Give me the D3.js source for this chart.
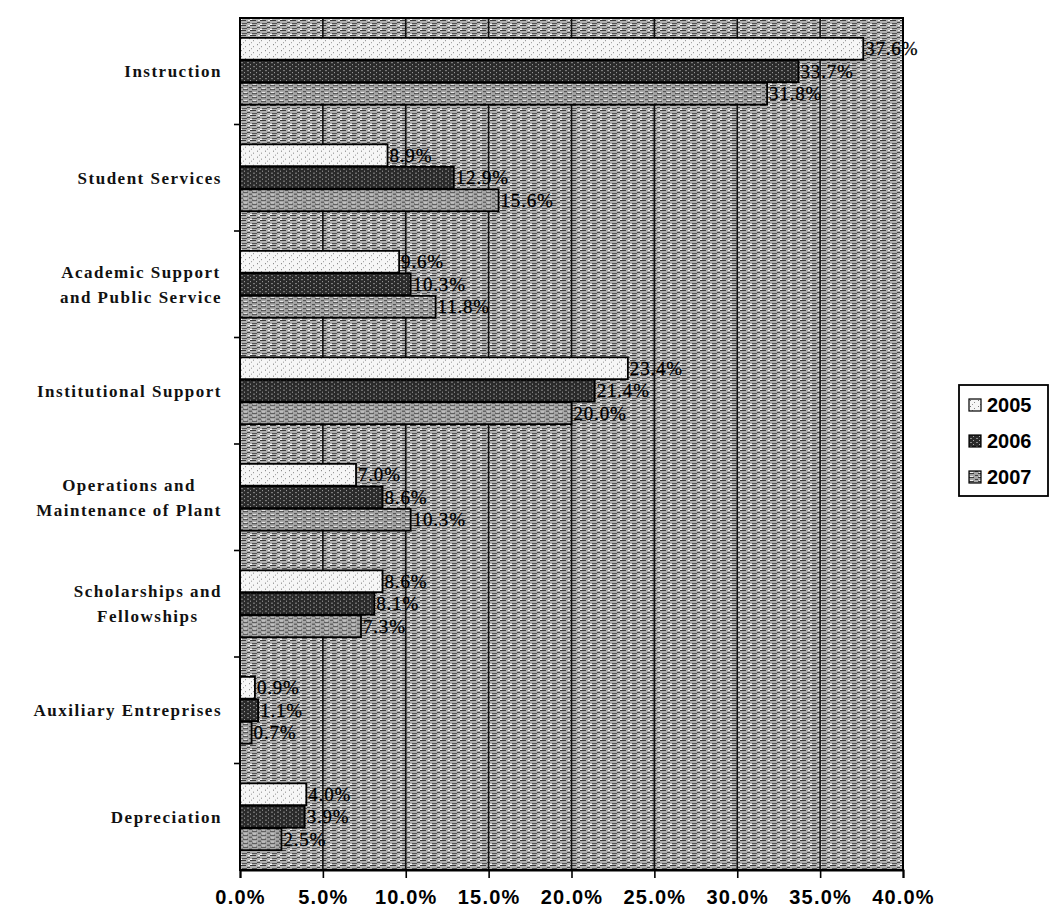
<!DOCTYPE html>
<html>
<head>
<meta charset="utf-8">
<script src="https://cdn.jsdelivr.net/npm/d3@7"></script>
<style>
  html, body { margin: 0; padding: 0; background: #ffffff; }
  svg { display: block; }
</style>
</head>
<body>
<svg id="chart" width="1050" height="915"></svg>
<script>
// ---- data ----
const categories = [
  "Instruction",
  "Student Services",
  "Academic Support|and Public Service",
  "Institutional Support",
  "Operations and|Maintenance of Plant",
  "Scholarships and|Fellowships",
  "Auxiliary Entreprises",
  "Depreciation"
];
const seriesNames = ["2005", "2006", "2007"];
const values2005 = [37.6, 8.9, 9.6, 23.4, 7.0, 8.6, 0.9, 4.0];
const values2006 = [33.7, 12.9, 10.3, 21.4, 8.6, 8.1, 1.1, 3.9];
const values2007 = [31.8, 15.6, 11.8, 20.0, 10.3, 7.3, 0.7, 2.5];
const tickValues = [0, 5, 10, 15, 20, 25, 30, 35, 40];
const tickLabels = ["0.0%", "5.0%", "10.0%", "15.0%", "20.0%", "25.0%", "30.0%", "35.0%", "40.0%"];

const seriesValues = [values2005, values2006, values2007];
const rows = categories.map((c, i) => ({
  cat: c,
  vals: seriesNames.map((s, j) => ({ series: s, idx: j, v: seriesValues[j][i] }))
}));

// ---- layout ----
const svg = d3.select("#chart");
const plot = { left: 240, right: 903, top: 18, bottom: 870 };

const x = d3.scaleLinear().domain([0, 40]).range([plot.left, plot.right]);
const y = d3.scaleBand().domain(categories).range([plot.top, plot.bottom]).paddingInner(0.36).paddingOuter(0.18);
const yInner = d3.scaleBand().domain(seriesNames).range([0, y.bandwidth()]).padding(0.03);

// ---- patterns (scanned halftone look) ----
const defs = svg.append("defs");
function mkPattern(id, w, h, base, marks) {
  const p = defs.append("pattern").attr("id", id).attr("patternUnits", "userSpaceOnUse")
    .attr("width", w).attr("height", h);
  p.append("rect").attr("width", w).attr("height", h).attr("fill", base);
  marks.forEach(m => p.append("rect").attr("x", m[0]).attr("y", m[1]).attr("width", m[2]).attr("height", m[3]).attr("fill", m[4]));
}
mkPattern("bgPat", 10, 5, "#b0b0b0", [
  [0, 0, 6, 1, "#3a3a3a"], [7, 2, 3, 1, "#4a4a4a"], [2, 3, 5, 1, "#555"], [0, 4, 2, 1, "#fff"], [8, 0, 2, 1, "#eee"]
]);
mkPattern("p2005", 8, 6, "#f6f6f6", [
  [1, 1, 1, 1, "#777"], [5, 3, 1, 1, "#888"], [3, 5, 1, 1, "#999"]
]);
mkPattern("p2006", 6, 4, "#2a2a2a", [
  [1, 1, 2, 1, "#8a8a8a"], [4, 3, 1, 1, "#aaa"]
]);
mkPattern("p2007", 9, 4, "#a6a6a6", [
  [0, 0, 5, 1, "#3c3c3c"], [6, 2, 3, 1, "#444"], [1, 3, 3, 1, "#f0f0f0"]
]);
const fills = ["url(#p2005)", "url(#p2006)", "url(#p2007)"];

// ---- plot background ----
svg.append("rect")
  .attr("x", plot.left).attr("y", plot.top)
  .attr("width", plot.right - plot.left).attr("height", plot.bottom - plot.top)
  .attr("fill", "url(#bgPat)");

// gridlines
svg.append("g").selectAll("line").data(tickValues.slice(1, -1)).join("line")
  .attr("x1", d => x(d)).attr("x2", d => x(d))
  .attr("y1", plot.top).attr("y2", plot.bottom)
  .attr("stroke", "#111").attr("stroke-width", 1.6);

// ---- bars ----
const gCat = svg.append("g").selectAll("g").data(rows).join("g")
  .attr("transform", d => `translate(0,${y(d.cat)})`);

gCat.selectAll("rect").data(d => d.vals).join("rect")
  .attr("x", x(0))
  .attr("y", d => yInner(d.series))
  .attr("width", d => x(d.v) - x(0))
  .attr("height", yInner.bandwidth())
  .attr("fill", d => fills[d.idx])
  .attr("stroke", "#000").attr("stroke-width", 1.8);

// data labels
gCat.selectAll("text").data(d => d.vals).join("text")
  .attr("x", d => x(d.v) + 2)
  .attr("y", d => yInner(d.series) + yInner.bandwidth() / 2)
  .attr("dy", "0.35em")
  .attr("font-family", "'Liberation Serif', 'DejaVu Serif', serif")
  .attr("font-size", 19)
  .attr("letter-spacing", "0.8px")
  .attr("fill", "#000")
  .attr("stroke", "#000").attr("stroke-width", 0.3)
  .text(d => d.v.toFixed(1) + "%");

// plot border
svg.append("rect")
  .attr("x", plot.left).attr("y", plot.top)
  .attr("width", plot.right - plot.left).attr("height", plot.bottom - plot.top)
  .attr("fill", "none").attr("stroke", "#000").attr("stroke-width", 2);

// ---- x axis ----
const xAxis = d3.axisBottom(x).tickValues(tickValues).tickSize(8).tickPadding(12)
  .tickFormat((d, i) => tickLabels[i]);
const gx = svg.append("g").attr("transform", `translate(0,${plot.bottom})`).call(xAxis);
gx.select(".domain").attr("stroke", "#000").attr("stroke-width", 2);
gx.selectAll(".tick line").attr("stroke", "#000").attr("stroke-width", 1.6);
gx.selectAll(".tick text")
  .attr("font-family", "'Liberation Sans', Arial, sans-serif")
  .attr("font-weight", "bold").attr("font-size", 20)
  .attr("letter-spacing", "1.2px")
  .attr("fill", "#000");

// ---- y axis (category boundary ticks) ----
const boundaries = categories.slice(1).map(c => y(c) - y.step() * y.paddingInner() / 2);
svg.append("g").selectAll("line").data(boundaries).join("line")
  .attr("x1", plot.left - 6).attr("x2", plot.left)
  .attr("y1", d => d).attr("y2", d => d)
  .attr("stroke", "#000").attr("stroke-width", 1.6);

// category labels
const labelRight = 222;
const gLab = svg.append("g");
rows.forEach(r => {
  const lines = r.cat.split("|");
  const cy = y(r.cat) + y.bandwidth() / 2;
  const lh = 25;
  const t = gLab.append("g");
  const texts = lines.map((ln, i) => t.append("text")
    .attr("y", cy + (i - (lines.length - 1) / 2) * lh)
    .attr("dy", "0.35em")
    .attr("font-family", "'Liberation Serif', 'DejaVu Serif', serif")
    .attr("font-weight", "bold").attr("font-size", 17)
    .attr("letter-spacing", "1.5px")
    .attr("fill", "#111")
    .text(ln));
  const widths = texts.map(tx => tx.node().getComputedTextLength());
  const maxW = d3.max(widths);
  const center = labelRight - maxW / 2;
  texts.forEach(tx => tx.attr("x", center).attr("text-anchor", "middle"));
});

// ---- legend ----
const lg = svg.append("g").attr("transform", "translate(959,385)");
lg.append("rect").attr("width", 89).attr("height", 111)
  .attr("fill", "#fff").attr("stroke", "#000").attr("stroke-width", 1.8);
const li = lg.selectAll("g").data(seriesNames).join("g")
  .attr("transform", (d, i) => `translate(10,${20 + i * 36})`);
li.append("rect").attr("x", 0).attr("y", -6).attr("width", 12).attr("height", 12)
  .attr("fill", (d, i) => fills[i]).attr("stroke", "#000").attr("stroke-width", 1.2);
li.append("text").attr("x", 18).attr("dy", "0.36em")
  .attr("font-family", "'Liberation Sans', Arial, sans-serif")
  .attr("font-weight", "bold").attr("font-size", 20)
  .attr("fill", "#000")
  .text(d => d);
</script>
</body>
</html>
